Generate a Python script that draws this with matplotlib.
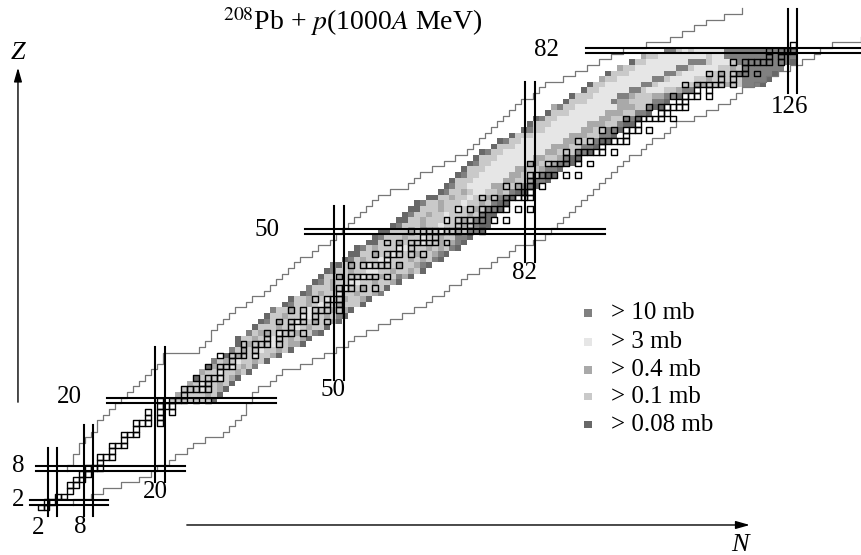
import matplotlib
matplotlib.use('Agg')
import matplotlib.pyplot as plt
from matplotlib.patches import Rectangle
from matplotlib.collections import PatchCollection

plt.rcParams['font.family'] = ['Liberation Serif', 'DejaVu Serif']
plt.rcParams['mathtext.fontset'] = 'stix'

# ---------------- data ----------------
title = r'$^{208}$Pb + $p$(1000$A$ MeV)'

level_codes = ['h', 'v', 'm', 'l', 'd']
level_labels = ['> 10 mb', '> 3 mb', '> 0.4 mb', '> 0.1 mb', '> 0.08 mb']
level_colors = ['#808080', '#e6e6e6', '#a9a9a9', '#c9c9c9', '#686868']

# cross-section map: (Z, first N, level code of each successive N)
band_rows = [
    (20, 22, "llllllld"),
    (21, 23, "mllllmld"),
    (22, 24, "lllvllmd"),
    (23, 25, "mlvllmld"),
    (24, 26, "dlllvlmd"),
    (25, 27, "mllvllmld"),
    (26, 28, "dmllvlmlh"),
    (27, 29, "hlmlvllmld"),
    (28, 31, "dlmllvllmd"),
    (29, 32, "hlmllvllmld"),
    (30, 33, "dlmlllvllmmd"),
    (31, 33, "dllmllvllmlmd"),
    (32, 35, "hlmmlvllmllhd"),
    (33, 36, "dlllmllvlmlld"),
    (34, 37, "dhlmllvllmllmd"),
    (35, 38, "dllmllvvllmlhd"),
    (36, 39, "hllmllvlllmlmd"),
    (37, 41, "dhllmlvllmllld"),
    (38, 42, "dllmllvvlmllmd"),
    (39, 44, "dhlmllvllmllmh"),
    (40, 45, "hlllmlvllmllld"),
    (41, 46, "dhlmllvvllmllmd"),
    (42, 47, "dllmlllvllmllhmd"),
    (43, 48, "dhllmllvvllmllmld"),
    (44, 49, "hdlmllvllllmllmhd"),
    (45, 51, "dhlmllvvlllmlmlhd"),
    (46, 52, "ddllmllvlllmllmhd"),
    (47, 53, "dhlmlllvvlllmlmlhd"),
    (48, 55, "ddlllmlllvllmlmhd"),
    (49, 56, "dhlllmllvllmllhhd"),
    (50, 57, "ddlllmllllvllmlhhd"),
    (51, 59, "dhlllmllvlllmlhdd"),
    (52, 60, "ddllmlllvllmlhhd"),
    (53, 61, "dhllmllvlllmlhdd"),
    (54, 62, "ddlllmllvllmlhhd"),
    (55, 63, "dhllmlllvllmlhdd"),
    (56, 65, "ddllmllvllmlhhd"),
    (57, 67, "dhllmlvvllmlhdd"),
    (58, 68, "dhllvvvvmmllmhhd"),
    (59, 69, "dlllvvvvvmmllmhhd"),
    (60, 70, "dhllvvvvvmmlllhdd"),
    (61, 71, "dlllvvvvvmmllmhhd"),
    (62, 72, "dhllvvvvvvmmllmhhd"),
    (63, 73, "dlllvvvvvvmmllmhdd"),
    (64, 74, "dhllvvvvvvvmmlllhhd"),
    (65, 76, "dlllvvvvvvmmmllhhd"),
    (66, 77, "dhllvvvvvvvmmlllhdd"),
    (67, 79, "dlllvvvvvvmmmllhhd"),
    (68, 81, "dhllvvvvvvmmllhhd"),
    (69, 82, "dlllvvvvvvmmmllhdd"),
    (70, 83, "dhllvvvvvvvmmllhhd"),
    (71, 85, "dlllvvvvvvmmmllhhd"),
    (72, 86, "mhllvvvvvvvmmmllhdd"),
    (73, 88, "dlllvvvvhmmllllhhd"),
    (74, 89, "dlllvvvvhhmlllmmhhd"),
    (75, 91, "dllvvvvvhhlvvvllmhh"),
    (76, 92, "dllvvvvvvhhlvvvvllmmlllmllhhhd"),
    (77, 94, "mllvvvvvvhhlvvvvllmlllllhhhhd"),
    (78, 95, "dlllvvvvvvhhlvvvvllmllhhhhhhd"),
    (79, 97, "mllvvvvvvvhhlvvvvllmlhhhhhhh"),
    (80, 99, "dllvvvvvvvhhhlvvvlhhhhhhhhhd"),
    (81, 101, "mllvvvvvvvvlvvhhhhhhhhhhhh"),
    (82, 105, "hhlvlvvvvvhhhhhhhhhhhh"),
]

# stable nuclides: Z -> list of N
stable = {
    1: [0, 1], 2: [1, 2], 3: [3, 4], 4: [5], 5: [5, 6], 6: [6, 7], 7: [7, 8],
    8: [8, 9, 10], 9: [10], 10: [10, 11, 12], 11: [12], 12: [12, 13, 14],
    13: [14], 14: [14, 15, 16], 15: [16], 16: [16, 17, 18, 20], 17: [18, 20],
    18: [18, 20, 22], 19: [20, 21, 22], 20: [20, 22, 23, 24, 26, 28], 21: [24],
    22: [24, 25, 26, 27, 28], 23: [27, 28], 24: [26, 28, 29, 30], 25: [30],
    26: [28, 30, 31, 32], 27: [32], 28: [30, 32, 33, 34, 36], 29: [34, 36],
    30: [34, 36, 37, 38, 40], 31: [38, 40], 32: [38, 40, 41, 42, 44], 33: [42],
    34: [40, 42, 43, 44, 46, 48], 35: [44, 46], 36: [42, 44, 46, 47, 48, 50],
    37: [48, 50], 38: [46, 48, 49, 50], 39: [50], 40: [50, 51, 52, 54, 56],
    41: [52], 42: [50, 52, 53, 54, 55, 56, 58], 44: [52, 54, 55, 56, 57, 58, 60],
    45: [58], 46: [56, 58, 59, 60, 62, 64], 47: [60, 62],
    48: [58, 60, 62, 63, 64, 65, 66, 68], 49: [64, 66],
    50: [62, 64, 65, 66, 67, 68, 69, 70, 72, 74], 51: [70, 72],
    52: [68, 70, 71, 72, 73, 74, 76, 78], 53: [74],
    54: [70, 72, 74, 75, 76, 77, 78, 80, 82], 55: [78],
    56: [74, 76, 78, 79, 80, 81, 82], 57: [81, 82], 58: [78, 80, 82, 84],
    59: [82], 60: [82, 83, 84, 85, 86, 88, 90], 62: [82, 85, 86, 87, 88, 90, 92],
    63: [88, 90], 64: [88, 90, 91, 92, 93, 94, 96], 65: [94],
    66: [90, 92, 94, 95, 96, 97, 98], 67: [98], 68: [94, 96, 98, 99, 100, 102],
    69: [100], 70: [98, 100, 101, 102, 103, 104, 106], 71: [104, 105],
    72: [102, 104, 105, 106, 107, 108], 73: [107, 108],
    74: [106, 108, 109, 110, 112], 75: [110, 112],
    76: [108, 110, 111, 112, 113, 114, 116], 77: [114, 116],
    78: [112, 114, 116, 117, 118, 120], 79: [118],
    80: [116, 118, 119, 120, 121, 122, 124], 81: [122, 124],
    82: [122, 124, 125, 126], 83: [126],
}

# proton-rich limit (first N for each Z)
upper_z = list(range(8, 90))
upper_n = [5, 6, 6, 7, 7, 8, 9, 10, 10, 11, 12, 13, 14, 15, 16, 17, 18, 19, 20, 21,
           21, 27, 28, 29, 29, 30, 31, 32, 33, 35, 36, 38, 39, 40, 41, 42, 43, 44,
           46, 47, 49, 50, 51, 52, 53, 54, 55, 56, 57, 59, 62, 63, 64, 66, 68, 70,
           72, 73, 74, 75, 76, 77, 78, 79, 80, 81, 83, 84, 85, 88, 90, 92, 94, 96,
           98, 102, 106, 108, 110, 112, 115, 118]
# neutron-rich limit (last N for each Z)
lower_z = list(range(2, 85))
lower_n = [5, 8, 10, 13, 16, 18, 19, 21, 22, 24, 25, 27, 30, 31, 32, 33, 34, 34,
           35, 35, 36, 38, 39, 40, 43, 45, 47, 49, 51, 52, 54, 56, 58, 60, 62, 64,
           65, 67, 68, 70, 71, 73, 75, 76, 78, 79, 82, 84, 85, 86, 87, 88, 89, 90,
           91, 92, 93, 94, 95, 96, 97, 98, 100, 101, 102, 104, 105, 106, 109, 111,
           113, 115, 116, 117, 119, 121, 123, 125, 127, 129, 130, 132, 137]

magic_n = [2, 8, 20, 50, 82, 126]
magic_n_zrange = [(-0.5, 11.6), (-0.5, 15.6), (5.6, 29.5), (23.6, 54.5), (44.6, 76.5), (74.5, 89.4)]
magic_n_label_pos = [(-0.4, -2.6), (6.6, -2.5), (19.3, 3.8), (49.0, 21.9), (81.1, 42.6), (125.5, 72.0)]
magic_z = [2, 8, 20, 50, 82]
magic_z_nrange = [(-1.8, 11.3), (-0.8, 24.2), (11.2, 39.4), (44.3, 94.5), (91.3, 140)]
magic_z_label_pos = [(-3.8, 2.4), (-3.8, 8.4), (4.9, 20.6), (37.9, 50.2), (84.8, 82.2)]

# ---------------- figure ----------------
fig = plt.figure(figsize=(8.62, 5.55), dpi=100)
ax = fig.add_axes([0, 0, 1, 1])
ax.set_xlim(-6.79, 137.6)
ax.set_ylim(-7.39, 91.0)
ax.axis('off')

cmap = dict(zip(level_codes, level_colors))
cells, cols = [], []
for z, n0, pat in band_rows:
    for i, c in enumerate(pat):
        cells.append(Rectangle((n0 + i - 0.5, z - 0.5), 1, 1))
        cols.append(cmap[c])
ax.add_collection(PatchCollection(cells, facecolors=cols, edgecolors='none', zorder=1))

# stable nuclides
sq = []
for z, ns in stable.items():
    for n in ns:
        sq.append(Rectangle((n - 0.5, z - 0.5), 1.0, 1.0))
ax.add_collection(PatchCollection(sq, facecolors='none', edgecolors='black', linewidths=1.0, zorder=3))

# limit staircases
def stair(zs, ns, side):
    xs, ys = [], []
    for z, n in zip(zs, ns):
        x = n - 0.5 if side == 'left' else n + 0.5
        xs += [x, x]
        ys += [z - 0.5, z + 0.5]
    return xs, ys

xs, ys = stair(upper_z, upper_n, 'left')
ax.plot(xs, ys, color='#777777', lw=0.9, zorder=2)
xs, ys = stair(lower_z, lower_n, 'right')
ax.plot(xs, ys, color='#777777', lw=0.9, zorder=2)

FS = 18
# magic lines
for n, (z0, z1), (lx, ly) in zip(magic_n, magic_n_zrange, magic_n_label_pos):
    for dn in (-0.79, 0.79):
        ax.plot([n + dn, n + dn], [z0, z1], color='black', lw=1.5, zorder=4)
    ax.text(lx, ly, str(n), ha='center', va='center', fontsize=FS)
for z, (n0, n1), (lx, ly) in zip(magic_z, magic_z_nrange, magic_z_label_pos):
    for dz in (-0.44, 0.44):
        ax.plot([n0, n1], [z + dz, z + dz], color='black', lw=1.5, zorder=4)
    ax.text(lx, ly, str(z), ha='center', va='center', fontsize=FS)

# axes arrows
ap = dict(arrowstyle='-|>,head_length=0.7,head_width=0.2', color='black', lw=1.0,
          mutation_scale=12, shrinkA=0, shrinkB=0)
ax.annotate('', xy=(-3.78, 79.0), xytext=(-3.78, 19.7), arrowprops=ap)
ax.annotate('', xy=(118.8, -2.07), xytext=(24.5, -2.07), arrowprops=ap)
ax.text(-3.78, 81.6, 'Z', style='italic', ha='center', va='center', fontsize=19)
ax.text(117.2, -5.6, 'N', style='italic', ha='center', va='center', fontsize=19)

ax.text(52.2, 87.1, title, ha='center', va='center', fontsize=20)

# legend
leg_z = [35.5, 30.4, 25.4, 20.7, 15.7]
for z, c, lab in zip(leg_z, level_colors, level_labels):
    ax.add_patch(Rectangle((91.7 - 0.6, z - 0.65), 1.2, 1.3, facecolor=c, edgecolor='none'))
    ax.text(95.5, z, lab, ha='left', va='center', fontsize=FS)

fig.savefig('out.png', dpi=100)
